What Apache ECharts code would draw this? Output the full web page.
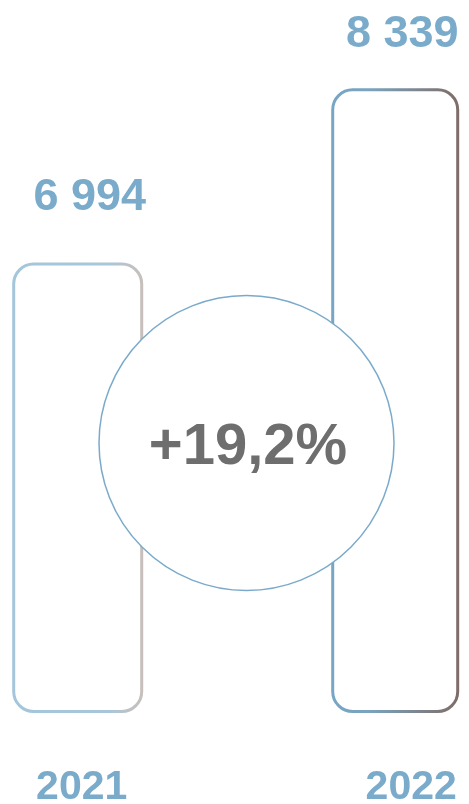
<!DOCTYPE html>
<html>
<head>
<meta charset="utf-8">
<script src="https://cdn.jsdelivr.net/npm/echarts@6/dist/echarts.min.js"></script>
<style>
html,body{margin:0;padding:0;background:#fff;}
#chart{width:469px;height:804px;}
</style>
</head>
<body>
<div id="chart"></div>
<script>
var years = ['2021', '2022'];
var values = [6994, 8339];
var changeLabel = '+19,2%';

var Y_MIN = 3540;
var Y_MAX = 9032;

var chart = echarts.init(document.getElementById('chart'), null, {renderer: 'canvas'});

function fmt(v) {
  return String(v).replace(/\B(?=(\d{3})+(?!\d))/g, ' ');
}

var strokes = [
  [{offset: 0, color: '#a3c6dc'}, {offset: 0.72, color: '#a8c6da'}, {offset: 1, color: '#c8bfbb'}],
  [{offset: 0, color: '#77a6c5'}, {offset: 0.3, color: '#7aa3be'}, {offset: 1, color: '#7f6c67'}]
];
var barWidths = [128, 125];
var labelDist = [42, 31];
var labelOff = [[12, 0], [7, 0]];
var yearPad = [[0, 0, 0, 8], [0, 0, 0, 32]];

var option = {
  animation: false,
  grid: {left: 77.7, right: 73.8, top: 0, bottom: 92.5, outerBoundsMode: 'none', containLabel: false},
  xAxis: {
    type: 'category',
    boundaryGap: false,
    data: years.map(function (y, i) {
      return {value: y, textStyle: {padding: yearPad[i]}};
    }),
    axisLine: {show: false},
    axisTick: {show: false},
    splitLine: {show: false},
    axisLabel: {
      margin: 56,
      color: '#7aabcb',
      fontSize: 41,
      fontWeight: 'bold',
      fontFamily: 'Liberation Sans, Arial, sans-serif'
    }
  },
  yAxis: {
    type: 'value',
    min: Y_MIN,
    max: Y_MAX,
    show: false
  },
  series: [{
    type: 'custom',
    clip: false,
    data: values.map(function (v, i) { return [i, v]; }),
    encode: {x: 0, y: 1},
    renderItem: function (params, api) {
      var i = api.value(0);
      var top = api.coord([i, api.value(1)]);
      var base = api.coord([i, Y_MIN]);
      var w = barWidths[i];
      return {
        type: 'rect',
        shape: {x: top[0] - w / 2, y: top[1], width: w, height: base[1] - top[1], r: 20},
        style: {
          fill: '#ffffff',
          stroke: new echarts.graphic.LinearGradient(0, 0, 1, 0, strokes[i]),
          lineWidth: 3
        },
        textContent: {
          style: {
            text: fmt(api.value(1)),
            fill: '#7aabcb',
            font: 'bold 45px "Liberation Sans", Arial, sans-serif'
          }
        },
        textConfig: {
          position: 'top',
          distance: labelDist[i],
          offset: labelOff[i]
        }
      };
    }
  }],
  graphic: [{
    type: 'circle',
    z: 100,
    shape: {cx: 246.5, cy: 443, r: 147.5},
    style: {fill: '#ffffff', stroke: '#7aaacb', lineWidth: 1.5}
  }, {
    type: 'text',
    z: 101,
    x: 248,
    y: 448,
    style: {
      text: changeLabel,
      fill: '#6e6e6e',
      font: 'bold 58px "Liberation Sans", Arial, sans-serif',
      align: 'center',
      verticalAlign: 'middle'
    }
  }]
};
chart.setOption(option);
</script>
</body>
</html>
